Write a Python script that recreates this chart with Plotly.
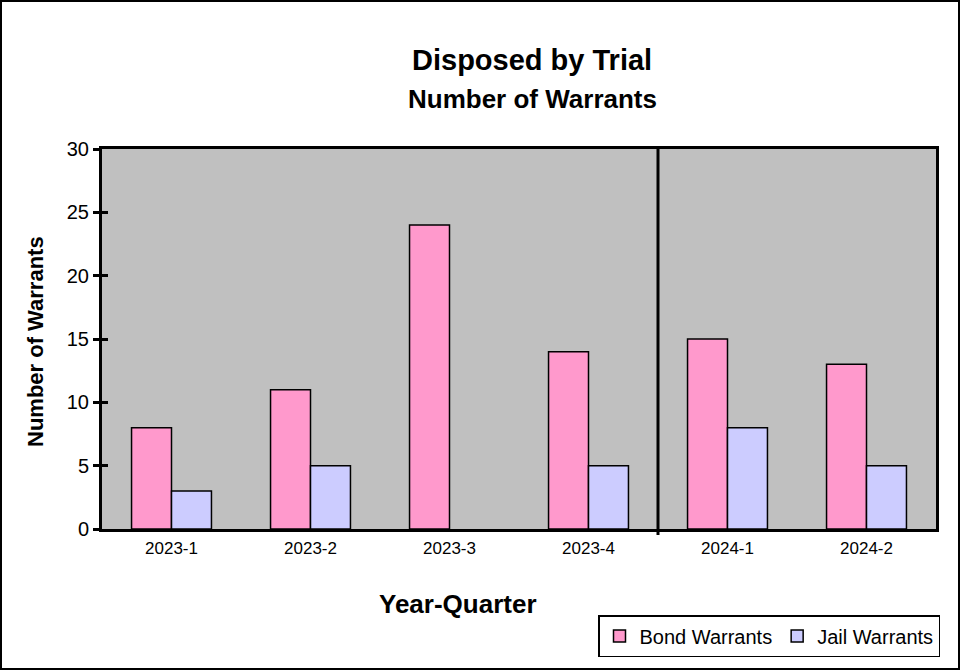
import plotly.graph_objects as go

categories = ["2023-1", "2023-2", "2023-3", "2023-4", "2024-1", "2024-2"]
bond_warrants = [8, 11, 24, 14, 15, 13]
jail_warrants = [3, 5, 0, 5, 8, 5]
y_ticks = [0, 5, 10, 15, 20, 25, 30]

W, H = 962, 671
L, R, T, B = 102, 26, 149, 142
pw, ph = W - L - R, H - T - B


def px_x(p):
    return (p - L) / pw


def px_y(p):
    return (T + ph - p) / ph


FONT = "Liberation Sans, Arial, sans-serif"

fig = go.Figure()
fig.add_trace(go.Bar(x=categories, y=bond_warrants, name="Bond Warrants",
                     marker=dict(color="#FF99CC", line=dict(color="black", width=1.5))))
fig.add_trace(go.Bar(x=categories, y=[v if v else None for v in jail_warrants], name="Jail Warrants",
                     marker=dict(color="#CCCCFF", line=dict(color="black", width=1.5))))

# invisible trace on second y axis for inside ticks
fig.add_trace(go.Scatter(x=categories, y=bond_warrants, yaxis="y2", mode="markers",
                         marker=dict(opacity=0), showlegend=False, hoverinfo="skip"))

fig.update_layout(
    width=W, height=H,
    margin=dict(l=L, r=R, t=T, b=B),
    paper_bgcolor="white",
    plot_bgcolor="#C0C0C0",
    barmode="group",
    bargap=0.425,
    bargroupgap=0,
    font=dict(family=FONT, color="black"),
    showlegend=True,
    legend=dict(orientation="h", x=px_x(598), y=px_y(615),
                xanchor="left", yanchor="top",
                bgcolor="white", bordercolor="black", borderwidth=1.5,
                font=dict(size=20, family=FONT), traceorder="normal",
                itemwidth=30),
    xaxis=dict(type="category", showgrid=False, showline=True, linecolor="black", linewidth=3,
               mirror=True, ticks="", tickfont=dict(size=17), ticklabelstandoff=2),
    yaxis=dict(range=[0, 30], tickvals=y_ticks, showgrid=False, zeroline=False,
               showline=True, linecolor="black", linewidth=3, mirror=True,
               ticks="outside", ticklen=6, tickwidth=3, tickcolor="black",
               tickfont=dict(size=20), ticklabelstandoff=0),
    yaxis2=dict(range=[0, 30], tickvals=y_ticks, overlaying="y", side="left",
                showgrid=False, zeroline=False, showticklabels=False,
                ticks="inside", ticklen=6, tickwidth=3, tickcolor="black"),
)

fig.add_annotation(text="<b>Disposed by Trial</b>", xref="paper", yref="paper",
                   x=px_x(532), y=px_y(60), xanchor="center", yanchor="middle",
                   showarrow=False, font=dict(size=29))
fig.add_annotation(text="<b>Number of Warrants</b>", xref="paper", yref="paper",
                   x=px_x(532), y=px_y(99), xanchor="center", yanchor="middle",
                   showarrow=False, font=dict(size=26))
fig.add_annotation(text="<b>Year-Quarter</b>", xref="paper", yref="paper",
                   x=px_x(458), y=px_y(604), xanchor="center", yanchor="middle",
                   showarrow=False, font=dict(size=26))
fig.add_annotation(text="<b>Number of Warrants</b>", xref="paper", yref="paper",
                   x=px_x(35), y=px_y(342), xanchor="center", yanchor="middle",
                   textangle=-90, showarrow=False, font=dict(size=22))

# separator line between 2023 and 2024
fig.add_shape(type="line", xref="x", yref="paper", x0=3.5, x1=3.5, y0=-6 / ph, y1=1,
              line=dict(color="black", width=3))

# outer chart border
fig.add_shape(type="rect", xref="paper", yref="paper",
              x0=px_x(1), x1=px_x(959), y0=px_y(669), y1=px_y(1),
              line=dict(color="black", width=2), fillcolor="rgba(0,0,0,0)", layer="above")

fig.write_html("out.html", config={"displayModeBar": False},
               post_script="document.body.style.margin='0';")
